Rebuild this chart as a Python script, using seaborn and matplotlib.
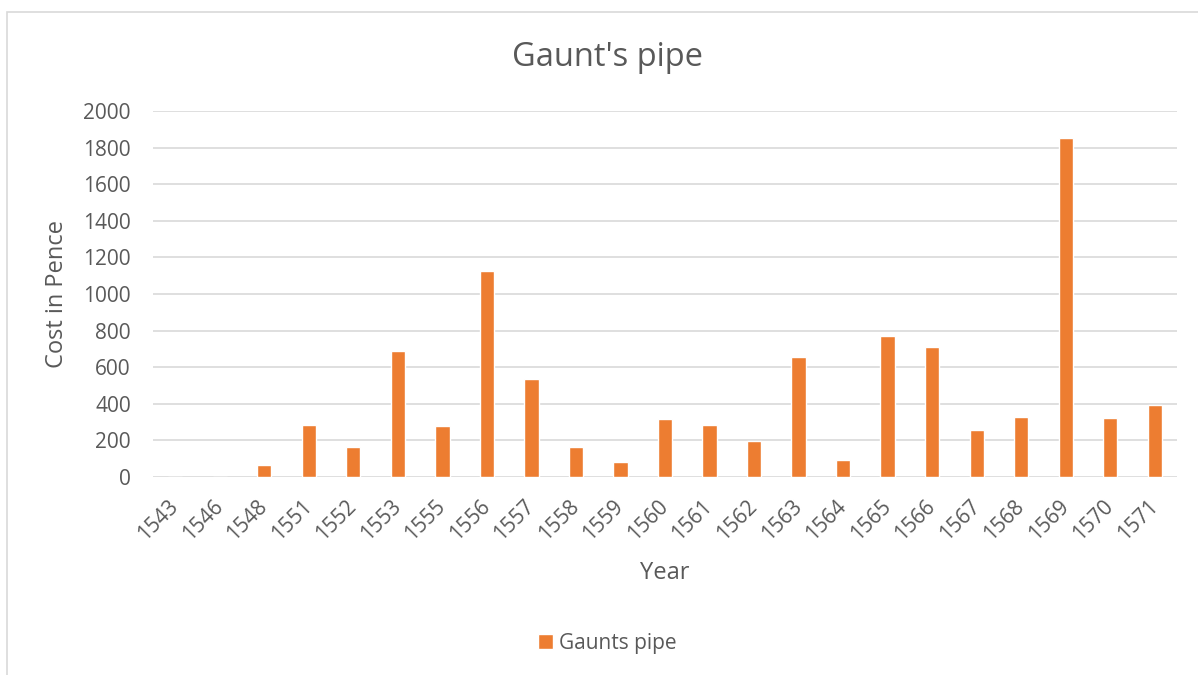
import pandas as pd
import matplotlib.pyplot as plt
import seaborn as sns
from matplotlib.patches import Rectangle

sns.set_style('white')
plt.rcParams['font.family'] = ['Open Sans', 'DejaVu Sans']

years = ['1543', '1546', '1548', '1551', '1552', '1553', '1555', '1556', '1557', '1558',
         '1559', '1560', '1561', '1562', '1563', '1564', '1565', '1566', '1567', '1568',
         '1569', '1570', '1571']
cost = [0, 0, 67, 285, 164, 688, 278, 1125, 535, 162,
        84, 318, 285, 198, 658, 91, 773, 711, 256, 329,
        1852, 325, 396]

df = pd.DataFrame({'Year': years, 'Cost': cost})

grey = '#595959'
fig = plt.figure(figsize=(11.98, 6.75), dpi=100)
ax = fig.add_axes([153 / 1198, 1 - 477 / 675, (1177 - 153) / 1198, (477 - 111) / 675])

sns.barplot(data=df, x='Year', y='Cost', color='#ED7D31', width=0.32, saturation=1,
            label='Gaunts pipe', ax=ax, zorder=3)

ax.set_ylim(0, 2000)
ax.set_yticks(range(0, 2001, 200))
ax.grid(axis='y', color='#D9D9D9', linewidth=1.2, zorder=0)
ax.grid(axis='x', visible=False)
for s in ax.spines.values():
    s.set_visible(False)
ax.tick_params(axis='both', length=0, labelsize=15, colors=grey)
ax.tick_params(axis='y', pad=16)
ax.tick_params(axis='x', pad=19)
plt.setp(ax.get_xticklabels(), rotation=45, ha='right', va='center',
         rotation_mode='anchor')

ax.set_xlabel('Year', fontsize=17, color=grey, labelpad=12)
ax.set_ylabel('Cost in Pence', fontsize=17, color=grey, labelpad=10)
fig.text(608 / 1198, 1 - 57 / 675, "Gaunt's pipe", fontsize=23.5, color=grey,
         ha='center', va='center')

if ax.legend_:
    ax.legend_.remove()
h, l = ax.get_legend_handles_labels()
fig.legend(h, l, loc='center', bbox_to_anchor=(0.507, 0.047), frameon=False,
           fontsize=15, labelcolor=grey, handlelength=0.7, handleheight=0.7,
           handletextpad=0.3)

fig.patches.append(Rectangle((7 / 1198, -0.1), 1.2, 1 - 12 / 675 + 0.1,
                             transform=fig.transFigure, fill=False,
                             edgecolor='#D9D9D9', linewidth=1.2))

plt.savefig('out.png', dpi=100)
